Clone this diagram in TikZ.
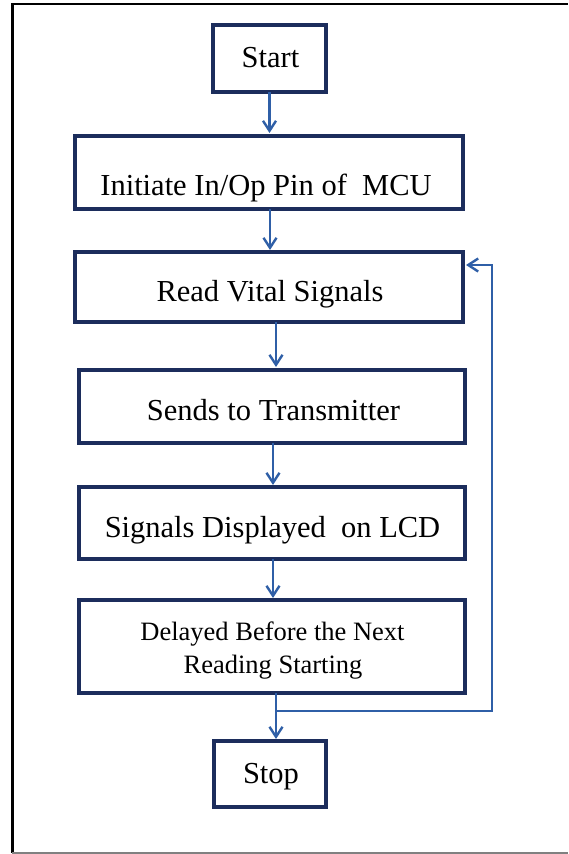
\documentclass[tikz,border=0pt]{standalone}
\usepackage{fontspec}
\setmainfont{Liberation Serif}
\newfontfamily\tnr{Liberation Serif}
\usetikzlibrary{arrows.meta}
\definecolor{boxc}{HTML}{1C2D5C}
\definecolor{arrc}{HTML}{2F5FA7}
\begin{document}
\begin{tikzpicture}[x=1pt,y=-1pt,
  flowbox/.style={draw=boxc, line width=3.2pt, inner sep=0pt, outer sep=0pt},
  lbl/.style={anchor=base, inner sep=0pt, outer sep=0pt, text=black, font=\tnr\fontsize{30.5}{34}\selectfont},
  smalllbl/.style={anchor=base, inner sep=0pt, outer sep=0pt, text=black, font=\tnr\fontsize{26.5}{30}\selectfont},
  arr/.style={draw=arrc, line width=2.4pt, -{Straight Barb[length=10pt,width=13pt,line width=2.4pt]}}]
\useasboundingbox (0,0) rectangle (568,854);
\fill[white] (0,0) rectangle (568,854);
% outer frame (top, left, bottom)
\draw[black, line width=2pt] (11.5,4) -- (568,4);
\draw[black, line width=2.6pt] (12.5,3) -- (12.5,853);
\draw[gray, line width=1.5pt] (12,852.8) -- (568,852.8);
% boxes
\node[flowbox, minimum width=113pt, minimum height=67pt] (start) at (269.5,58.5) {};
\node[flowbox, minimum width=388pt, minimum height=73pt] (init) at (269,172.5) {};
\node[flowbox, minimum width=388pt, minimum height=70pt] (read) at (269,287) {};
\node[flowbox, minimum width=386pt, minimum height=73pt] (sends) at (272,406.5) {};
\node[flowbox, minimum width=386pt, minimum height=72pt] (signals) at (272,523) {};
\node[flowbox, minimum width=386pt, minimum height=93pt] (delayed) at (272,646.5) {};
\node[flowbox, minimum width=112pt, minimum height=66pt] (stop) at (270,774) {};
% labels
\node[lbl] (tstart) at (270.5,67) {Start};
\node[lbl] (tinit) at (266,195) {Initiate In/Op Pin of\ \ MCU};
\node[lbl] (tread) at (270,301.5) {Read Vital Signals};
\node[lbl] (tsends) at (273.5,420) {Sends to Transmitter};
\node[lbl] (tsignals) at (272.5,537) {Signals Displayed\ \ on LCD};
\node[smalllbl] (tdel1) at (272.5,640.5) {Delayed Before the Next};
\node[smalllbl] (tdel2) at (273,673) {Reading Starting};
\node[lbl] (tstop) at (271,783) {Stop};
% arrow x positions
\coordinate (a1) at (269.5,0);
\coordinate (a2) at (270,0);
\coordinate (a3) at (276,0);
\coordinate (a4) at (273,0);
\coordinate (a5) at (273,0);
\coordinate (a6) at (276,0);
\coordinate (j) at (276,711);
\coordinate (fbx) at (492,0);
\coordinate (fby) at (0,265);
% connectors
\draw[arr, shorten >=3pt] (start.south -| a1) -- (init.north -| a1);
\draw[arr, shorten >=2pt] (init.south -| a2) -- (read.north -| a2);
\draw[arr, shorten >=3pt] (read.south -| a3) -- (sends.north -| a3);
\draw[arr, shorten >=2pt] (sends.south -| a4) -- (signals.north -| a4);
\draw[arr, shorten >=2pt] (signals.south -| a5) -- (delayed.north -| a5);
\draw[arr, shorten >=2pt] (delayed.south -| a6) -- (stop.north -| a6);
\draw[arr, shorten >=3pt] (j) -- (j -| fbx) -- (fbx |- fby) -- (read.east |- fby);
\end{tikzpicture}
\end{document}
